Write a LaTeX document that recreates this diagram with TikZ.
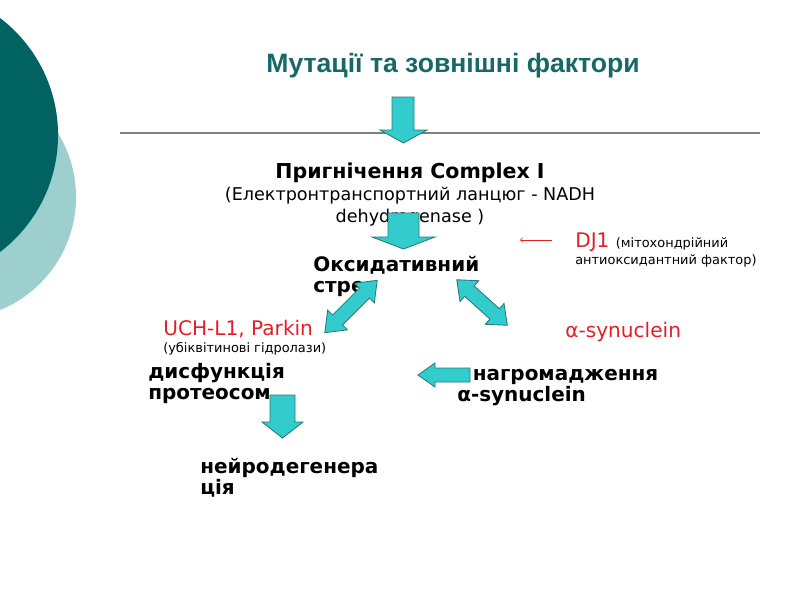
\documentclass[tikz,border=0pt]{standalone}
\usepackage{fontspec}
\setmainfont{DejaVu Sans}
\newfontfamily\titlefont{Liberation Sans}
\usetikzlibrary{positioning}
\definecolor{darkteal}{RGB}{0,99,97}
\definecolor{lightteal}{RGB}{158,207,207}
\definecolor{titleteal}{RGB}{24,104,104}
\definecolor{arrowfill}{RGB}{51,204,204}
\definecolor{arrowline}{RGB}{40,120,120}
\definecolor{labelred}{RGB}{228,30,38}
\tikzset{
blockarr/.style={fill=arrowfill, draw=arrowline, line width=0.6pt},
heading/.style={font=\titlefont\bfseries\fontsize{18.9}{22}\selectfont, text=titleteal, inner sep=0pt},
stage/.style={font=\bfseries\fontsize{14.2}{15}\selectfont, align=left, inner sep=0pt},
note/.style={font=\fontsize{12.5}{15.5}\selectfont, align=center, inner sep=0pt},
gene/.style={font=\fontsize{14.3}{15}\selectfont, text=labelred, inner sep=0pt},
remark/.style={font=\fontsize{9.2}{12}\selectfont, inner sep=0pt, align=left}
}
\begin{document}
\begin{tikzpicture}[x=0.025cm, y=-0.025cm]
    \useasboundingbox (0,0) rectangle (800,600);
    % side decoration
    \fill[lightteal] (-46,197) circle[radius=3.05cm];
    \fill[darkteal] (-89,135) circle[radius=3.675cm];
    \draw[gray, line width=1pt] (120,133) -- (760,133);

    \node[heading] (title) at (453,66) {Мутації та зовнішні фактори};
    \node[note, anchor=north] (complex) at (410,163) {{\bfseries\fontsize{14.6}{15.5}\selectfont Пригнічення Complex I}\\(Електронтранспортний ланцюг - NADH\\dehydrogenase )};
    \node[stage, anchor=north west] (stress) at (313,256) {Оксидативний\\стрес};

    \node[gene, anchor=north west] (dj1) at (575,233) {DJ1 {\fontsize{9.2}{12}\selectfont\color{black}(мітохондрійний}};
    \node[remark, anchor=north west] (dj1note) at (575,254) {антиоксидантний фактор)};
    \coordinate (djtail) at (552,240);
    \coordinate (djtip) at (520,240);
    \draw[labelred, ->, line width=0.5pt] (djtail) -- (djtip);

    \node[gene, anchor=north west] (asyn) at (565,322) {α-synuclein};
    \node[gene, anchor=north west] (uch) at (163,320) {UCH-L1, Parkin};
    \node[remark, below=3pt of uch.south west, anchor=north west] (uchnote) {(убіквітинові гідролази)};

    \node[stage, anchor=north west] (proteo) at (148,363) {дисфункція\\протеосом};
    \node[stage, anchor=north west] (accum) at (457,369) {\hspace*{11pt}нагромадження\\α-synuclein};
    \node[stage, anchor=north west] (neuro) at (200,458) {нейродегенера\\ція};

    % block arrows
    \draw[blockarr] (392,97) -- (414,97) -- (414,130) -- (427,130) -- (403.5,143) -- (380,130) -- (392,130) -- cycle;
    \draw[blockarr] (388,213) -- (419,213) -- (419,237) -- (435,237) -- (403.5,249) -- (372,237) -- (388,237) -- cycle;
    \draw[blockarr] (270,395) -- (295,395) -- (295,422) -- (303,422) -- (282.5,438) -- (262,422) -- (270,422) -- cycle;
    \draw[blockarr] (470,368) -- (435,368) -- (435,363) -- (418,375) -- (435,387) -- (435,382) -- (470,382) -- cycle;
    \begin{scope}[shift={(351,306.5)}, rotate=45]
      \draw[blockarr] (-37,0) -- (-19,14) -- (-19,7) -- (19,7) -- (19,14) -- (37,0) -- (19,-14) -- (19,-7) -- (-19,-7) -- (-19,-14) -- cycle;
    \end{scope}
    \begin{scope}[shift={(482,302.5)}, rotate=-42]
      \draw[blockarr] (-34,0) -- (-17,14) -- (-17,7) -- (17,7) -- (17,14) -- (34,0) -- (17,-14) -- (17,-7) -- (-17,-7) -- (-17,-14) -- cycle;
    \end{scope}
\end{tikzpicture}
\end{document}
